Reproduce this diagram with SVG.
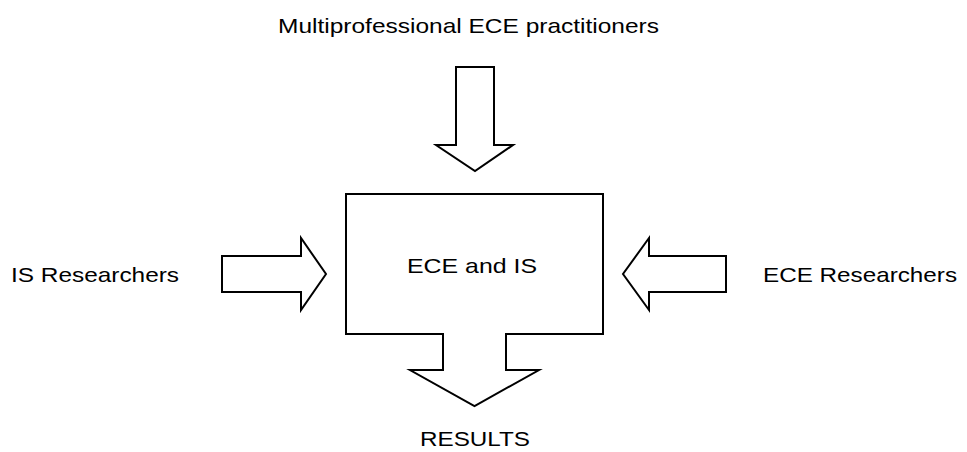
<svg xmlns="http://www.w3.org/2000/svg" width="967" height="452" viewBox="0 0 967 452">
<style>
.s{fill:#fff;stroke:#000;stroke-width:2;stroke-linejoin:miter}
.t{font-family:"Liberation Sans",Arial,sans-serif;font-size:21px;fill:#000;text-anchor:middle}
</style>
<rect width="967" height="452" fill="#fff"/>
<g id="connectors">
<path id="arrow-top" class="s" d="M456,67 H494 V145 H513 L475,171 L436,145 H456 Z"/>
<path id="arrow-left" class="s" d="M222,256 H301 V238 L326,274 L301,310 V292 H222 Z"/>
<path id="arrow-right" class="s" d="M726,256 H649 V238 L623,274 L649,310 V292 H726 Z"/>
</g>
<g id="node-center">
<path class="s" d="M346,194 H603 V334 H506 V370 H539 L474.5,406 L410,370 H443 V334 H346 Z"/>
<text class="t" x="472" y="273" textLength="130" lengthAdjust="spacingAndGlyphs">ECE and IS</text>
</g>
<g id="node-top"><text class="t" x="468.5" y="33" textLength="381" lengthAdjust="spacingAndGlyphs">Multiprofessional ECE practitioners</text></g>
<g id="node-left"><text class="t" x="95" y="282" textLength="168" lengthAdjust="spacingAndGlyphs">IS Researchers</text></g>
<g id="node-right"><text class="t" x="860" y="282" textLength="194" lengthAdjust="spacingAndGlyphs">ECE Researchers</text></g>
<g id="node-bottom"><text class="t" x="475" y="446" textLength="110" lengthAdjust="spacingAndGlyphs">RESULTS</text></g>
</svg>
